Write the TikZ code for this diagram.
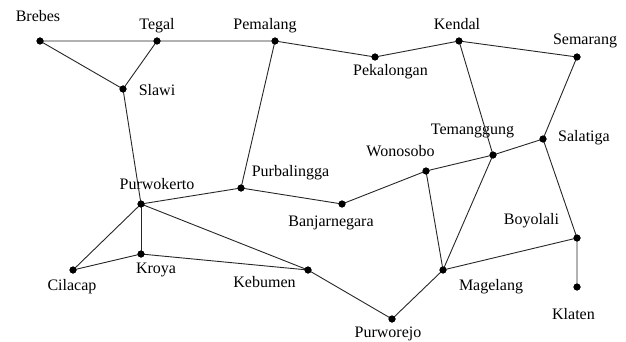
\documentclass[tikz,border=0pt]{standalone}
\usepackage{fontspec}
\setmainfont{Liberation Serif}
\begin{document}
\begin{tikzpicture}[x=1pt,y=-1pt,
  city/.style={circle,fill=black,inner sep=0pt,minimum size=7pt},
  lbl/.style={anchor=base,inner sep=0pt,font=\fontsize{16}{18}\selectfont},
  road/.style={line width=0.9pt,black!85}]
\useasboundingbox (0,0) rectangle (626,342);
% cities
\node[city] (brebes) at (40,41) {};
\node[city] (tegal) at (157,41) {};
\node[city] (pemalang) at (275,41) {};
\node[city] (slawi) at (123,89) {};
\node[city] (pekalongan) at (375,57) {};
\node[city] (kendal) at (459,41) {};
\node[city] (semarang) at (577,57) {};
\node[city] (temanggung) at (493,155) {};
\node[city] (salatiga) at (543,139) {};
\node[city] (wonosobo) at (426,171) {};
\node[city] (purwokerto) at (141,204) {};
\node[city] (purbalingga) at (241,188) {};
\node[city] (banjarnegara) at (342,204) {};
\node[city] (kroya) at (141,254) {};
\node[city] (cilacap) at (73,270) {};
\node[city] (kebumen) at (308,270) {};
\node[city] (magelang) at (443,270) {};
\node[city] (purworejo) at (392,319) {};
\node[city] (boyolali) at (577,238) {};
\node[city] (klaten) at (577,287) {};
% labels
\node[lbl] (lbrebes) at (38,22) {Brebes};
\node[lbl] (ltegal) at (157,30) {Tegal};
\node[lbl] (lpemalang) at (265,30) {Pemalang};
\node[lbl] (lslawi) at (157,95.5) {Slawi};
\node[lbl] (lpekalongan) at (390.5,76) {Pekalongan};
\node[lbl] (lkendal) at (457,30) {Kendal};
\node[lbl] (lsemarang) at (585,44.5) {Semarang};
\node[lbl] (ltemanggung) at (472.5,135) {Temanggung};
\node[lbl] (lsalatiga) at (584,142) {Salatiga};
\node[lbl] (lwonosobo) at (400.5,157) {Wonosobo};
\node[lbl] (lpurwokerto) at (157,189) {Purwokerto};
\node[lbl] (lpurbalingga) at (290.5,176) {Purbalingga};
\node[lbl] (lbanjarnegara) at (331,226.5) {Banjarnegara};
\node[lbl] (lkroya) at (156,273) {Kroya};
\node[lbl] (lcilacap) at (72,290.5) {Cilacap};
\node[lbl] (lkebumen) at (264.5,287.5) {Kebumen};
\node[lbl] (lmagelang) at (491,290.5) {Magelang};
\node[lbl] (lpurworejo) at (388,337.5) {Purworejo};
\node[lbl] (lboyolali) at (531.5,224.5) {Boyolali};
\node[lbl] (lklaten) at (573.5,319.5) {Klaten};
% roads
\draw[road] (brebes.center) -- (tegal.center) -- (pemalang.center) -- (pekalongan.center) -- (kendal.center) -- (semarang.center);
\draw[road] (brebes.center) -- (slawi.center) -- (tegal.center);
\draw[road] (slawi.center) -- (purwokerto.center);
\draw[road] (pemalang.center) -- (purbalingga.center);
\draw[road] (kendal.center) -- (temanggung.center);
\draw[road] (semarang.center) -- (salatiga.center);
\draw[road] (wonosobo.center) -- (temanggung.center) -- (salatiga.center);
\draw[road] (salatiga.center) -- (boyolali.center) -- (klaten.center);
\draw[road] (purwokerto.center) -- (purbalingga.center) -- (banjarnegara.center) -- (wonosobo.center) -- (magelang.center);
\draw[road] (temanggung.center) -- (magelang.center);
\draw[road] (purwokerto.center) -- (cilacap.center) -- (kroya.center) -- (kebumen.center);
\draw[road] (purwokerto.center) -- (kroya.center);
\draw[road] (purwokerto.center) -- (kebumen.center) -- (purworejo.center) -- (magelang.center) -- (boyolali.center);
% redraw dots on top
\foreach \c in {brebes,tegal,pemalang,slawi,pekalongan,kendal,semarang,temanggung,salatiga,wonosobo,purwokerto,purbalingga,banjarnegara,kroya,cilacap,kebumen,magelang,purworejo,boyolali,klaten}
  \fill (\c) circle (3.5pt);
\end{tikzpicture}
\end{document}
